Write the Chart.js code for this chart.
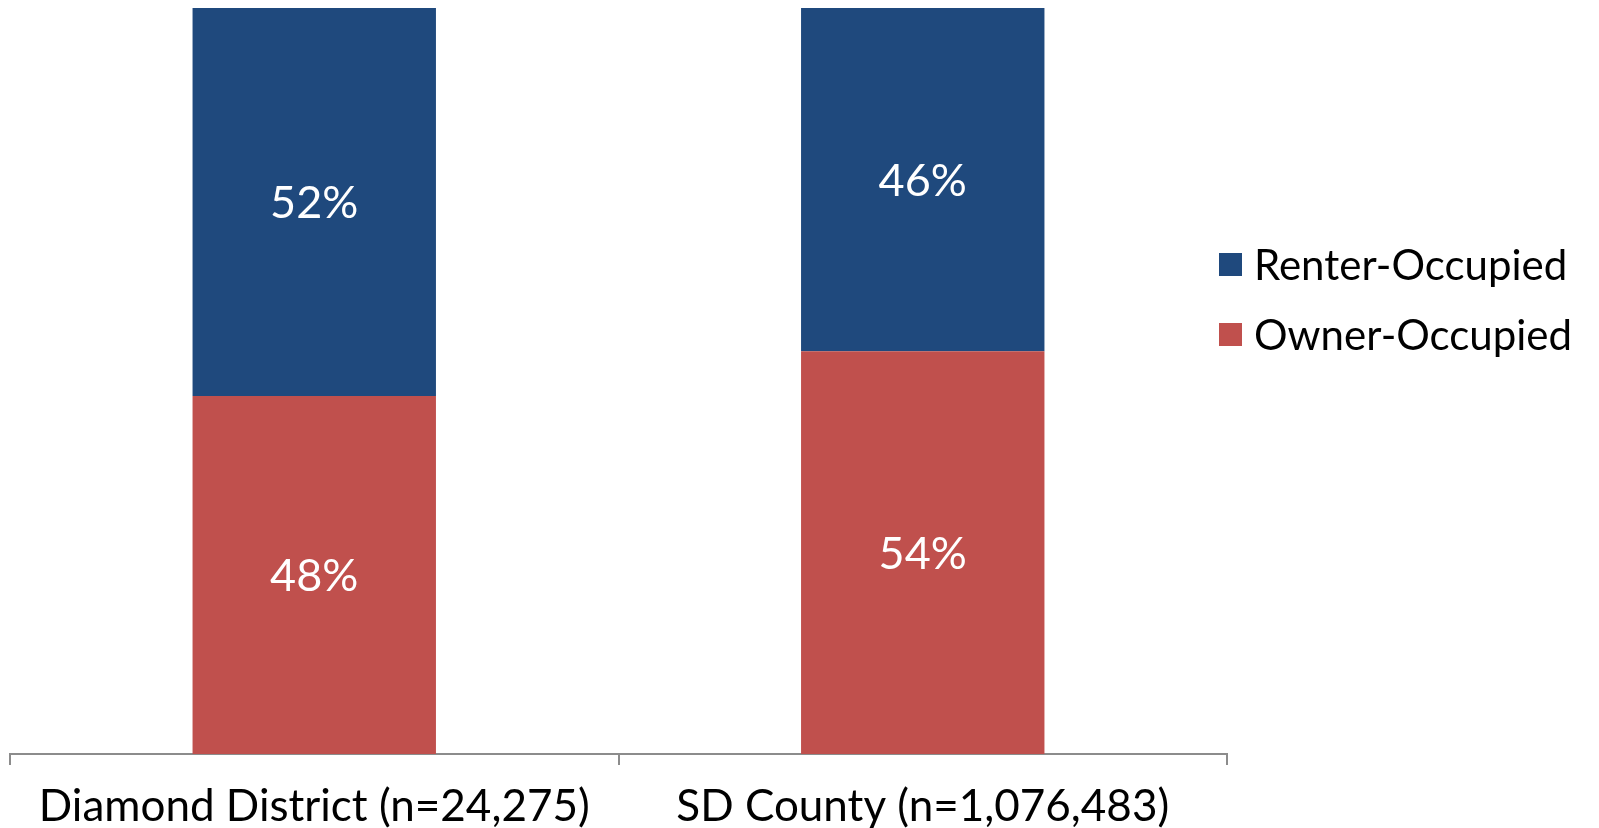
<!DOCTYPE html>
<html lang="en">
  <head>
    <meta charset="UTF-8" />
    <title>housing tenure</title>
    <script src="https://cdn.jsdelivr.net/npm/chart.js"></script>
    <style>
      html, body { margin: 0; padding: 0; background: #fff; }
      #wrap { position: relative; width: 1599px; height: 828px; }
      #legend { position: absolute; left: 1219px; top: 229px; font-family: Lato, sans-serif; font-size: 42px; color: #000; }
      #legend div { display: flex; align-items: center; height: 70px; }
      #legend span.box { display: inline-block; width: 23px; height: 23px; margin-right: 12px; }
    </style>
  </head>
  <body>
    <div id="wrap">
      <canvas id="tenure" width="1599" height="828"></canvas>
      <div id="legend"></div>
    </div>

    <script>
      // categories and shares (percent of occupied units)
      const areas = ['Diamond District (n=24,275)', 'SD County (n=1,076,483)'];
      const ownerPct = [48, 54];
      const renterPct = [52, 46];

      const blue = '#1f497d';
      const red = '#c0504d';

      // white % labels in the middle of each bar segment
      const segmentLabels = {
        id: 'segmentLabels',
        afterDatasetsDraw(chart) {
          const ctx = chart.ctx;
          ctx.save();
          ctx.fillStyle = '#fff';
          ctx.font = '45px Lato, sans-serif';
          ctx.textAlign = 'center';
          ctx.textBaseline = 'middle';
          chart.data.datasets.forEach((ds, i) => {
            chart.getDatasetMeta(i).data.forEach((bar, j) => {
              const mid = (bar.y + bar.base) / 2;
              ctx.fillText(ds.data[j] + '%', bar.x, mid + 2);
            });
          });
          ctx.restore();
        },
      };

      const config = {
        type: 'bar',
        data: {
          labels: areas,
          datasets: [
            { label: 'Owner-Occupied', data: ownerPct, backgroundColor: red, barPercentage: 0.4, categoryPercentage: 1.0 },
            { label: 'Renter-Occupied', data: renterPct, backgroundColor: blue, barPercentage: 0.4, categoryPercentage: 1.0 },
          ],
        },
        options: {
          responsive: false,
          animation: false,
          layout: { padding: { left: 10, right: 372, top: 8, bottom: -21 } },
          plugins: { legend: { display: false }, tooltip: { enabled: false } },
          scales: {
            x: {
              stacked: true,
              grid: { display: true, offset: true, drawOnChartArea: false, drawTicks: true, tickLength: 11, color: '#8c8c8c', lineWidth: 2 },
              border: { display: true, color: '#8c8c8c', width: 2 },
              ticks: { color: '#000', font: { family: 'Lato', size: 44, lineHeight: 1 }, padding: 20, maxRotation: 0 },
            },
            y: { stacked: true, display: false, min: 0, max: 100 },
          },
        },
        plugins: [segmentLabels],
      };

      const myChart = new Chart(document.getElementById('tenure'), config);

      // legend, renter first like the stack order from the top
      const legend = document.getElementById('legend');
      [config.data.datasets[1], config.data.datasets[0]].forEach((ds) => {
        const row = document.createElement('div');
        row.innerHTML = '<span class="box" style="background:' + ds.backgroundColor + '"></span>' + ds.label;
        legend.appendChild(row);
      });
    </script>
  </body>
</html>
